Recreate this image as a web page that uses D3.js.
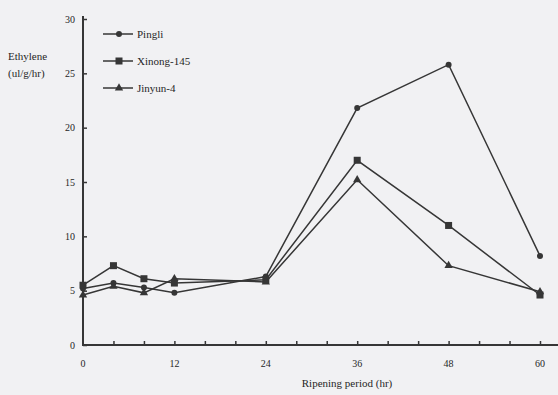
<!DOCTYPE html>
<html>
<head>
<meta charset="utf-8">
<script src="https://cdn.jsdelivr.net/npm/d3@7"></script>
<style>
  body { margin: 0; background: #f1f1f3; }
  svg { display: block; }
  text { font-family: "Liberation Serif", "Times New Roman", serif; fill: #262626; }
</style>
</head>
<body>
<svg width="558" height="395"></svg>
<script>
// ripening hours and ethylene values
const hours = [0, 4, 8, 12, 24, 36, 48, 60];
const pingli = [5.2, 5.7, 5.3, 4.8, 6.3, 21.8, 25.8, 8.2];
const xinong = [5.5, 7.3, 6.1, 5.7, 6.0, 17.0, 11.0, 4.6];
const jinyun = [4.6, 5.4, 4.8, 6.1, 5.8, 15.2, 7.3, 4.9];
const seriesNames = ["Pingli", "Xinong-145", "Jinyun-4"];
const xTicks = [0, 12, 24, 36, 48, 60];
const yTicks = [0, 5, 10, 15, 20, 25, 30];

const series = [
  { name: seriesNames[0], values: pingli, shape: "circle" },
  { name: seriesNames[1], values: xinong, shape: "square" },
  { name: seriesNames[2], values: jinyun, shape: "triangle" }
];

const svg = d3.select("svg"),
  margin = { top: 19, right: 0, bottom: 50, left: 83 },
  width = svg.attr("width") - margin.left - margin.right,
  height = svg.attr("height") - margin.top - margin.bottom,
  g = svg.append("g")
    .attr("transform", "translate(" + margin.left + "," + margin.top + ")");

const x = d3.scaleLinear().domain([0, 60]).range([0, 457]),
  y = d3.scaleLinear().domain([0, 30]).range([height, 0]);

const ink = "#363636";

// axes
const xAxis = g.append("g")
  .attr("transform", "translate(0," + height + ")")
  .call(d3.axisBottom(x).tickValues(d3.range(4, 61, 4)).tickSize(-4).tickFormat(""));
xAxis.select(".domain").remove();
xAxis.selectAll("line").attr("stroke", ink).attr("stroke-width", 1.5);
xAxis.append("line")
  .attr("x1", 0).attr("x2", width)
  .attr("stroke", ink).attr("stroke-width", 2);
xAxis.selectAll(".lbl")
  .data(xTicks)
  .enter().append("text")
  .attr("class", "lbl")
  .attr("x", d => x(d))
  .attr("y", 22)
  .attr("text-anchor", "middle")
  .attr("font-size", 10)
  .text(d => d);

const yAxis = g.append("g")
  .call(d3.axisLeft(y).tickValues(yTicks).tickSize(-4).tickPadding(8).tickFormat(d3.format("d")));
yAxis.select(".domain").remove();
yAxis.selectAll("line").attr("stroke", ink).attr("stroke-width", 1.5);
yAxis.selectAll("text")
  .attr("font-size", 10)
  .attr("fill", "#262626")
  .style("font-family", "'Liberation Serif', serif");
yAxis.append("line")
  .attr("y1", -3).attr("y2", height + 1)
  .attr("stroke", ink).attr("stroke-width", 2);

// axis titles
svg.append("text")
  .attr("x", 8).attr("y", 60)
  .attr("font-size", 11)
  .text("Ethylene");
svg.append("text")
  .attr("x", 8).attr("y", 77)
  .attr("font-size", 11)
  .text("(ul/g/hr)");
svg.append("text")
  .attr("x", 347).attr("y", 387)
  .attr("text-anchor", "middle")
  .attr("font-size", 11)
  .text("Ripening period (hr)");

// lines and markers
const line = d3.line()
  .x((d, i) => x(hours[i]))
  .y(d => y(d));

function marker(sel, shape) {
  if (shape === "circle") {
    sel.append("circle").attr("r", 3).attr("fill", ink);
  } else if (shape === "square") {
    sel.append("rect").attr("x", -3.5).attr("y", -3.5)
      .attr("width", 7).attr("height", 7).attr("fill", ink);
  } else {
    sel.append("path")
      .attr("d", d3.symbol(d3.symbolTriangle, 30)())
      .attr("fill", ink);
  }
}

series.forEach(s => {
  g.append("path")
    .datum(s.values)
    .attr("fill", "none")
    .attr("stroke", ink)
    .attr("stroke-width", 1.5)
    .attr("d", line);
  s.values.forEach((v, i) => {
    const m = g.append("g")
      .attr("transform", "translate(" + x(hours[i]) + "," + y(v) + ")");
    marker(m, s.shape);
  });
});

// legend
const legend = svg.append("g")
  .attr("transform", "translate(103,34)");
series.forEach((s, i) => {
  const row = legend.append("g")
    .attr("transform", "translate(0," + (i * 27) + ")");
  row.append("line")
    .attr("x1", 0).attr("x2", 30)
    .attr("stroke", ink).attr("stroke-width", 1.5);
  const m = row.append("g").attr("transform", "translate(16,0)");
  marker(m, s.shape);
  row.append("text")
    .attr("x", 34).attr("y", 4)
    .attr("font-size", 11)
    .text(s.name);
});
</script>
</body>
</html>
